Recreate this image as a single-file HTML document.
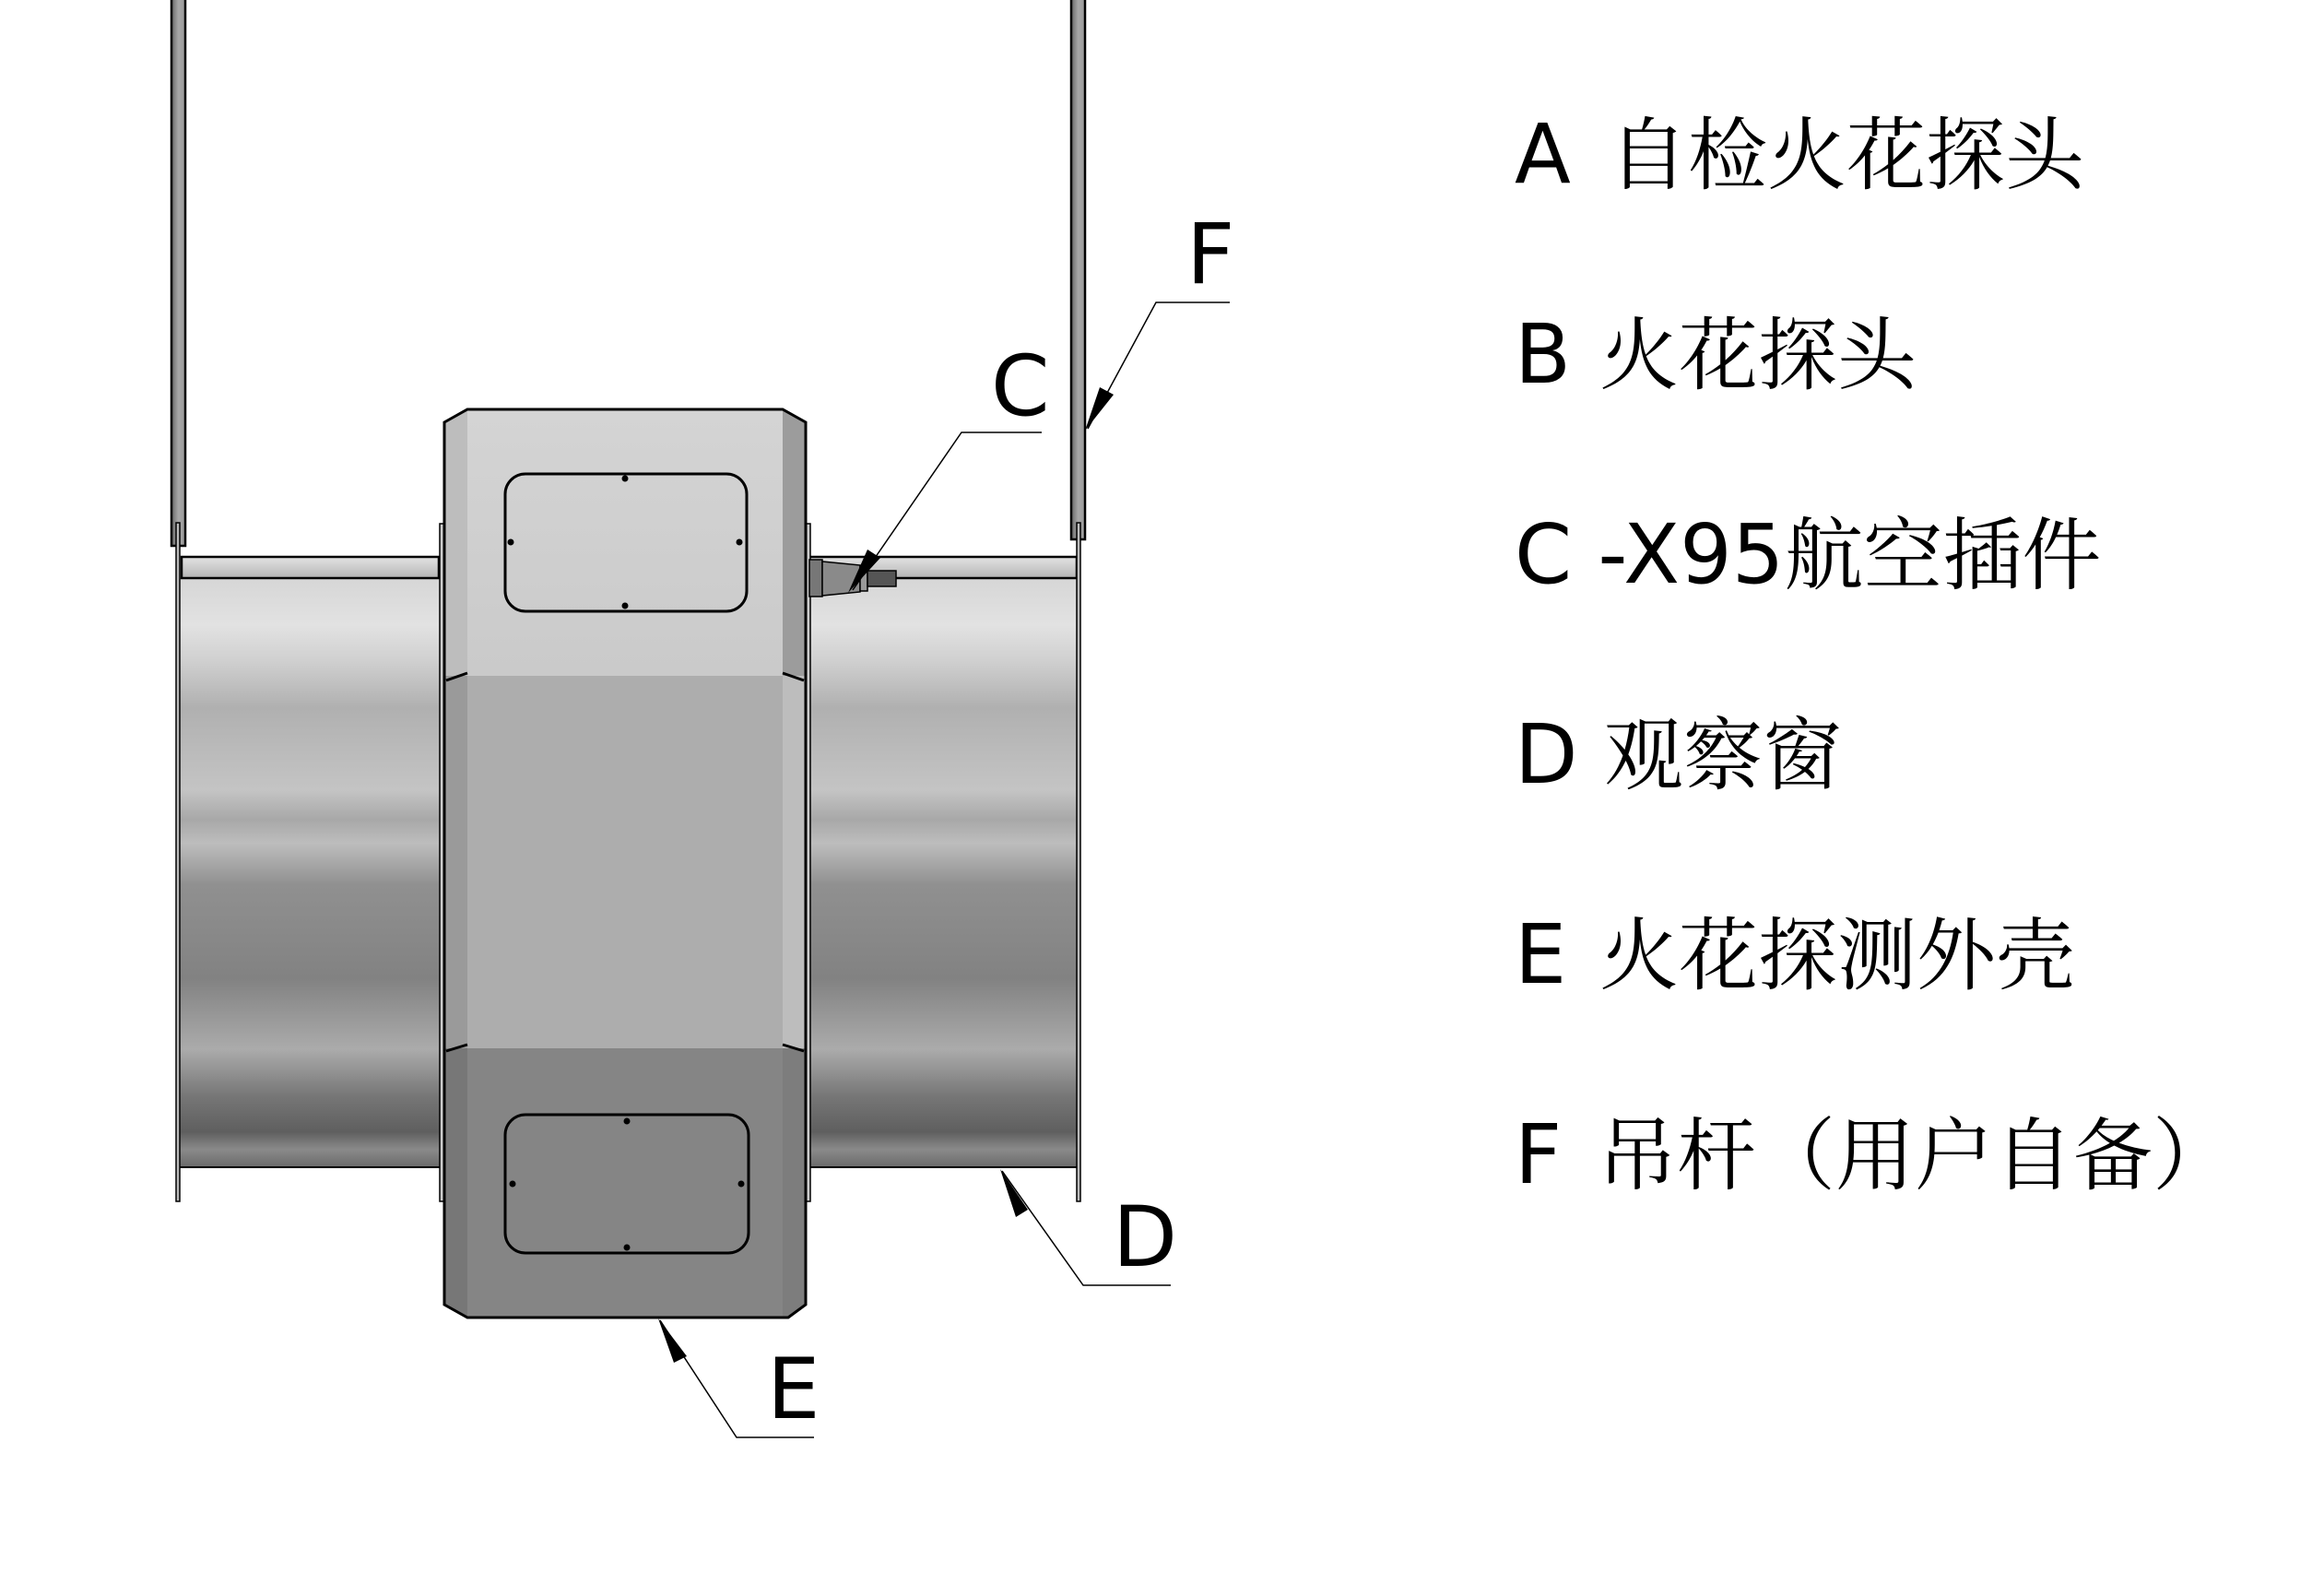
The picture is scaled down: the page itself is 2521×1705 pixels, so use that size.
<!DOCTYPE html>
<html><head><meta charset="utf-8"><style>
html,body{margin:0;padding:0;background:#fff;}
svg{display:block;}
.lbl{font-family:"DejaVu Sans","Liberation Sans",sans-serif;font-size:91px;fill:#000;}
.lg{font-family:"DejaVu Sans","Liberation Sans","Noto Serif CJK SC",serif;font-size:89px;fill:#000;}
.cj{font-family:"Noto Serif CJK SC","Noto Sans CJK SC",serif;font-size:86px;}
</style></head><body>
<svg width="2521" height="1705" viewBox="0 0 2521 1705" xmlns="http://www.w3.org/2000/svg">
<defs>
<linearGradient id="pipe" x1="0" y1="627" x2="0" y2="1266" gradientUnits="userSpaceOnUse">
<stop offset="0" stop-color="#d6d6d6"/>
<stop offset="0.08" stop-color="#e2e2e2"/>
<stop offset="0.14" stop-color="#d0d0d0"/>
<stop offset="0.22" stop-color="#b0b0b0"/>
<stop offset="0.36" stop-color="#c4c4c4"/>
<stop offset="0.41" stop-color="#a8a8a8"/>
<stop offset="0.45" stop-color="#bdbdbd"/>
<stop offset="0.52" stop-color="#909090"/>
<stop offset="0.68" stop-color="#828282"/>
<stop offset="0.8" stop-color="#ababab"/>
<stop offset="0.88" stop-color="#767676"/>
<stop offset="0.94" stop-color="#5f5f5f"/>
<stop offset="0.97" stop-color="#8a8a8a"/>
<stop offset="1" stop-color="#6a6a6a"/>
</linearGradient>
<linearGradient id="strip" x1="0" y1="0" x2="0" y2="1">
<stop offset="0" stop-color="#e4e4e4"/><stop offset="1" stop-color="#b4b4b4"/>
</linearGradient>
<linearGradient id="rod" x1="0" y1="0" x2="1" y2="0">
<stop offset="0" stop-color="#666"/><stop offset="0.5" stop-color="#a8a8a8"/><stop offset="1" stop-color="#999"/>
</linearGradient>
<linearGradient id="topband" x1="0" y1="444" x2="0" y2="733" gradientUnits="userSpaceOnUse">
<stop offset="0" stop-color="#d4d4d4"/><stop offset="1" stop-color="#cacaca"/>
</linearGradient>
<clipPath id="boxclip"><path d="M482 458 L507 444 L849 444 L874 458 L874 1415 L855 1429 L507 1429 L482 1415 Z"/></clipPath>
</defs>

<rect x="186" y="-2" width="15" height="594" fill="url(#rod)" stroke="#000" stroke-width="2.5"/>
<rect x="1162" y="-2" width="15" height="587" fill="url(#rod)" stroke="#000" stroke-width="2.5"/>

<rect x="194" y="627" width="284" height="639" fill="url(#pipe)"/>
<rect x="878" y="627" width="293" height="639" fill="url(#pipe)"/>
<line x1="194" y1="1266" x2="478" y2="1266" stroke="#000" stroke-width="2"/>
<line x1="878" y1="1266" x2="1171" y2="1266" stroke="#000" stroke-width="2"/>
<rect x="197" y="604" width="279" height="23" fill="url(#strip)" stroke="#000" stroke-width="2.5"/>
<rect x="878" y="604" width="290" height="23" fill="url(#strip)" stroke="#000" stroke-width="2.5"/>
<rect x="191" y="567" width="4" height="736" fill="#bbb" stroke="#000" stroke-width="1.5"/>
<rect x="1168" y="567" width="4" height="736" fill="#bbb" stroke="#000" stroke-width="1.5"/>
<rect x="477" y="568" width="5" height="735" fill="#ccc" stroke="#000" stroke-width="1.5"/>
<rect x="874" y="568" width="5" height="735" fill="#ccc" stroke="#000" stroke-width="1.5"/>

<rect x="878" y="607" width="14" height="40" fill="#777" stroke="#000" stroke-width="1.5"/>
<path d="M892 609 L933 613 L933 642 L892 646 Z" fill="#8a8a8a" stroke="#000" stroke-width="1.5"/>
<rect x="933" y="614" width="8" height="27" fill="#999" stroke="#000" stroke-width="1.5"/>
<rect x="941" y="619" width="31" height="17" fill="#555" stroke="#000" stroke-width="1.5"/>

<g clip-path="url(#boxclip)">
<rect x="482" y="444" width="392" height="289" fill="url(#topband)"/>
<rect x="482" y="733" width="392" height="404" fill="#adadad"/>
<rect x="482" y="1137" width="392" height="292" fill="#858585"/>
<rect x="482" y="444" width="25" height="289" fill="#bdbdbd"/>
<rect x="849" y="444" width="25" height="289" fill="#9c9c9c"/>
<rect x="482" y="733" width="25" height="404" fill="#9a9a9a"/>
<rect x="849" y="733" width="25" height="404" fill="#bdbdbd"/>
<rect x="482" y="1137" width="25" height="292" fill="#777"/>
<rect x="849" y="1137" width="25" height="292" fill="#7d7d7d"/>
</g>
<path d="M482 458 L507 444 L849 444 L874 458 L874 1415 L855 1429 L507 1429 L482 1415 Z" fill="none" stroke="#000" stroke-width="3"/>
<path d="M484 738 L507 730 M849 730 L872 738 M484 1140 L507 1133 M849 1133 L872 1140" stroke="#000" stroke-width="3"/>

<rect x="548" y="514" width="262" height="149" rx="22" fill="none" stroke="#000" stroke-width="3"/>
<rect x="548" y="1209" width="264" height="150" rx="22" fill="none" stroke="#000" stroke-width="3"/>
<g fill="#000">
<circle cx="678" cy="519" r="3.5"/><circle cx="678" cy="657" r="3.5"/><circle cx="554" cy="588" r="3.5"/><circle cx="802" cy="588" r="3.5"/>
<circle cx="680" cy="1216" r="3.5"/><circle cx="680" cy="1353" r="3.5"/><circle cx="556" cy="1284" r="3.5"/><circle cx="804" cy="1284" r="3.5"/>
</g>

<g stroke="#000" stroke-width="1.5" fill="none">
<polyline points="1130,469 1043,469 925,640"/>
<polyline points="1334,328 1254,328 1180,465"/>
<polyline points="1270,1394 1175,1394 1087,1270"/>
<polyline points="883,1559 799,1559 716,1432"/>
</g>
<g fill="#000">
<polygon points="920,643 941,596 955,605"/>
<polygon points="1177,467 1193,420 1208,428"/>
<polygon points="1085,1268 1115,1312 1102,1320"/>
<polygon points="714,1430 745,1471 731,1478"/>
</g>

<text class="lbl" x="1075" y="450">C</text>
<text class="lbl" x="1287" y="307">F</text>
<text class="lbl" x="1207" y="1373">D</text>
<text class="lbl" x="832" y="1538">E</text>

<text class="lg" x="1643" y="198">A <tspan class="cj" x="1745">自检火花探头</tspan></text>
<text class="lg" x="1643" y="415">B <tspan class="cj" x="1735">火花探头</tspan></text>
<text class="lg" x="1643" y="632">C -X95<tspan class="cj">航空插件</tspan></text>
<text class="lg" x="1643" y="849">D <tspan class="cj" x="1740">观察窗</tspan></text>
<text class="lg" x="1643" y="1066">E <tspan class="cj" x="1735">火花探测外壳</tspan></text>
<text class="lg" x="1643" y="1283">F <tspan class="cj" x="1733">吊杆（用户自备）</tspan></text>
</svg>
</body></html>
